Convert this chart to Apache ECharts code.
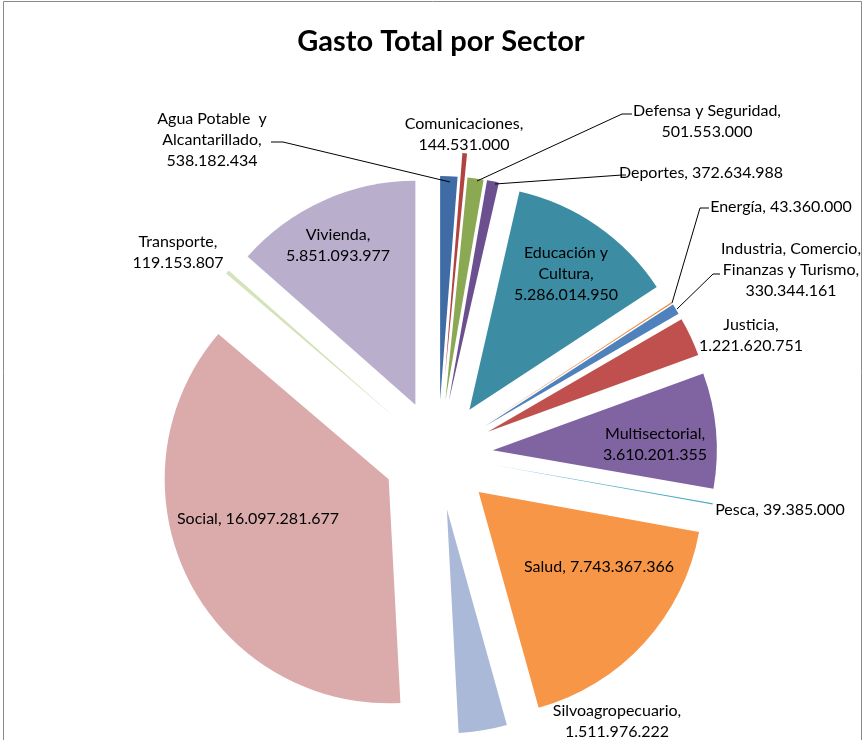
<!DOCTYPE html>
<html>
<head>
<meta charset="utf-8">
<script src="https://cdn.jsdelivr.net/npm/echarts@6/dist/echarts.min.js"></script>
<style>
  html, body { margin: 0; padding: 0; background: #fff; }
  #chart { width: 865px; height: 740px; }
</style>
</head>
<body>
<div id="chart"></div>
<script>
// ---- data ----
const categories = [
  'Agua Potable  y\nAlcantarillado',
  'Comunicaciones',
  'Defensa y Seguridad',
  'Deportes',
  'Educación y\nCultura',
  'Energía',
  'Industria, Comercio,\nFinanzas y Turismo',
  'Justicia',
  'Multisectorial',
  'Pesca',
  'Salud',
  'Silvoagropecuario',
  'Social',
  'Transporte',
  'Vivienda'
];
const values = [
  538182434, 144531000, 501553000, 372634988, 5286014950,
  43360000, 330344161, 1221620751, 3610201355, 39385000,
  7743367366, 1511976222, 16097281677, 119153807, 5851093977
];
// value printed on same line as name (true) or on the next line (false)
const sameLine = [false, false, false, true, false, true, false, false, false, true, true, false, true, false, false];

// ---- presentation ----
const colors = [
  '#3F6CA4', '#B0433F', '#8BA852', '#6B4F8E', '#3C8DA3',
  '#E8893A', '#4F81BD', '#C0504D', '#8064A2', '#4BACC6',
  '#F79646', '#AAB9D7', '#DBAAAA', '#D4E3B9', '#B9AFCD'
];
// explosion distance of each slice (px)
const explode = [55, 79, 55, 55, 55, 55, 55, 55, 55, 55, 55, 55, 55, 55, 55];
// label centres [x, y] and optional leader line points
const labelPos = [
  [212, 140], [464, 134], [707, 121], [701, 173], [566, 274],
  [781, 207], [791, 270], [751, 335], [655, 444], [780, 510],
  [599, 567], [617, 721], [258, 519], [178, 252], [338, 245]
];
const leaders = {
  0: [[450, 182], [283, 142], [271, 142]],
  2: [[477, 181], [622, 114], [632, 114]],
  3: [[495, 184], [622, 175], [626, 175]],
  5: [[672, 303], [700, 208], [709, 208]],
  6: [[677, 309], [713, 274], [720, 274]]
};

function fmt(v) {
  return String(v).replace(/\B(?=(\d{3})+(?!\d))/g, '.');
}

const chart = echarts.init(document.getElementById('chart'), null, { renderer: 'canvas' });

const common = {
  type: 'pie',
  center: [438, 455],
  radius: 224,
  startAngle: 90,
  clockwise: true,
  avoidLabelOverlap: false,
  minAngle: 0,
  emphasis: { scale: false, disabled: true }
};

const transparent = 'rgba(0,0,0,0)';
const offsets = Array.from(new Set(explode));
const sliceSeries = offsets.map(off => Object.assign({}, common, {
  name: 'sectores-' + off,
  selectedMode: 'multiple',
  selectedOffset: off,
  itemStyle: { borderWidth: 0 },
  select: { itemStyle: { borderWidth: 0 } },
  label: { show: false },
  labelLine: { show: false },
  data: categories.map((c, i) => ({
    name: c,
    value: values[i],
    selected: explode[i] === off,
    itemStyle: { color: explode[i] === off ? colors[i] : transparent }
  }))
}));

const labelSeries = Object.assign({}, common, {
  name: 'etiquetas',
  silent: true,
  selectedMode: false,
  z: 3,
  itemStyle: { color: transparent, borderWidth: 0 },
  label: {
    show: true,
    position: 'outside',
    fontFamily: 'Lato',
    fontSize: 16,
    lineHeight: 21,
    color: '#000',
    align: 'center',
    formatter: p => p.name + ',' + (sameLine[p.dataIndex] ? ' ' : '\n') + fmt(p.value)
  },
  labelLine: { show: false, lineStyle: { color: '#000', width: 1 }, length: 10, length2: 10 },
  labelLayout: function (params) {
    const i = params.dataIndex;
    const res = { x: labelPos[i][0], y: labelPos[i][1], align: 'center', verticalAlign: 'middle' };
    if (leaders[i]) res.labelLinePoints = leaders[i];
    return res;
  },
  data: categories.map((c, i) => ({
    name: c,
    value: values[i],
    labelLine: { show: !!leaders[i] }
  }))
});

chart.setOption({
  animation: false,
  title: {
    text: 'Gasto Total por Sector',
    left: 436,
    top: 22,
    textAlign: 'center',
    textStyle: { fontFamily: 'Lato', fontWeight: 'bold', fontSize: 29, color: '#000' }
  },
  graphic: [{
    type: 'rect',
    shape: { x: 3.5, y: 1.5, width: 858, height: 800 },
    style: { fill: 'none', stroke: '#8a8a8a', lineWidth: 1 },
    silent: true
  }],
  series: sliceSeries.concat([labelSeries])
});
</script>
</body>
</html>
